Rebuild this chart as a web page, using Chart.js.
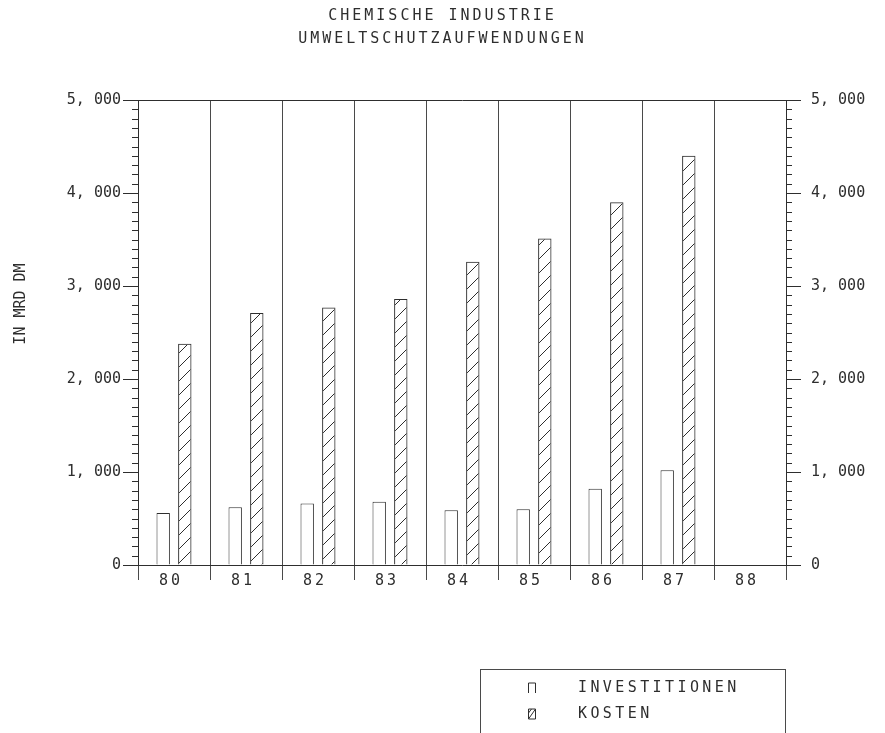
<!DOCTYPE html>
<html>
<head>
<meta charset="utf-8">
<script src="https://cdn.jsdelivr.net/npm/chart.js@4.4.0/dist/chart.umd.min.js"></script>
<style>
    html, body { margin: 0; padding: 0; background: #fff; }
    #wrap { width: 885px; height: 733px; }
</style>
</head>
<body>
<div id="wrap"><canvas id="chart" width="885" height="733"></canvas></div>
<script>
// Chart data (values in MRD DM)
const years = ['80', '81', '82', '83', '84', '85', '86', '87', '88'];
const investitionen = [0.56, 0.62, 0.66, 0.68, 0.59, 0.60, 0.82, 1.02, null];
const kosten = [2.38, 2.71, 2.77, 2.86, 3.26, 3.51, 3.90, 4.40, null];
const yTicks = [0, 1, 2, 3, 4, 5];
const seriesLabels = ['INVESTITIONEN', 'KOSTEN'];
const titleLines = ['CHEMISCHE INDUSTRIE', 'UMWELTSCHUTZAUFWENDUNGEN'];
const yAxisTitle = 'IN MRD DM';

const FONT = '"DejaVu Sans Mono", monospace';
const INK = '#2e2e2e';
const GRID = '#4a4a4a';
const MINOR_STEP = 0.1;

const canvas = document.getElementById('chart');

// diagonal hatch for the KOSTEN bars
function makeHatch() {
    const c = document.createElement('canvas');
    c.width = 14;
    c.height = 14;
    const g = c.getContext('2d');
    g.strokeStyle = INK;
    g.lineWidth = 1;
    g.beginPath();
    g.moveTo(0, 14); g.lineTo(14, 0);
    g.moveTo(-2, 2); g.lineTo(2, -2);
    g.moveTo(12, 16); g.lineTo(16, 12);
    g.stroke();
    return canvas.getContext('2d').createPattern(c, 'repeat');
}

// "5, 000" style labels
function fmtTick(v) {
    return v === 0 ? '0' : v.toFixed(3).replace('.', ', ');
}

// letter spacing per layer + minor ticks, axis title and legend box
const plotterPlugin = {
    id: 'plotter',
    beforeDraw(chart) {
        // title + x labels are drawn before the bars
        chart.ctx.letterSpacing = '3px';
    },
    afterDatasetsDraw(chart) {
        // y tick labels (ticks.z = 1) are drawn after the bars
        chart.ctx.letterSpacing = '0px';
    },
    afterDraw(chart) {
        const ctx = chart.ctx;
        const y = chart.scales.y;
        const area = chart.chartArea;

        ctx.save();
        ctx.strokeStyle = INK;
        ctx.lineWidth = 1;
        ctx.beginPath();
        const n = Math.round(5 / MINOR_STEP);
        for (let i = 1; i < n; i++) {
            if (i % 10 === 0) continue;
            const py = Math.round(y.getPixelForValue(i * MINOR_STEP)) + 0.5;
            ctx.moveTo(area.left - 6, py);
            ctx.lineTo(area.left, py);
            ctx.moveTo(area.right, py);
            ctx.lineTo(area.right + 6, py);
        }
        ctx.stroke();

        // rotated y axis title
        ctx.letterSpacing = '0px';
        ctx.fillStyle = INK;
        ctx.font = '15px ' + FONT;
        ctx.textAlign = 'center';
        ctx.textBaseline = 'middle';
        ctx.translate(21, 304);
        ctx.rotate(-Math.PI / 2);
        ctx.fillText(yAxisTitle, 0, 0);
        ctx.restore();

        // legend box
        ctx.save();
        ctx.strokeStyle = GRID;
        ctx.lineWidth = 1;
        ctx.strokeRect(480.5, 669.5, 305, 80);
        ctx.letterSpacing = '3.4px';
        ctx.fillStyle = INK;
        ctx.strokeStyle = INK;
        ctx.font = '15px ' + FONT;
        ctx.textAlign = 'left';
        ctx.textBaseline = 'middle';
        chart.data.datasets.forEach((ds, i) => {
            const cy = 688 + i * 26;
            ctx.beginPath();
            if (i === 0) {
                ctx.moveTo(528.5, cy + 5);
                ctx.lineTo(528.5, cy - 5);
                ctx.lineTo(535.5, cy - 5);
                ctx.lineTo(535.5, cy + 5);
            } else {
                ctx.rect(528.5, cy - 5, 7, 10);
                ctx.moveTo(528.5, cy + 5);
                ctx.lineTo(535.5, cy - 5);
                ctx.moveTo(528.5, cy - 1);
                ctx.lineTo(531.5, cy - 5);
            }
            ctx.stroke();
            ctx.fillText(ds.label, 578, cy);
        });
        ctx.restore();
    }
};

const tickFont = { family: FONT, size: 15 };

new Chart(canvas, {
    type: 'bar',
    data: {
        labels: years,
        datasets: [
            {
                label: seriesLabels[0],
                data: investitionen,
                backgroundColor: '#fff',
                borderColor: INK,
                borderWidth: 1,
                borderSkipped: 'bottom'
            },
            {
                label: seriesLabels[1],
                data: kosten,
                backgroundColor: makeHatch(),
                borderColor: INK,
                borderWidth: 1,
                borderSkipped: 'bottom'
            }
        ]
    },
    options: {
        responsive: false,
        animation: false,
        datasets: {
            bar: { categoryPercentage: 0.6, barPercentage: 0.62 }
        },
        layout: { padding: { top: 0, left: 0, right: 0, bottom: 138 } },
        plugins: {
            legend: { display: false },
            tooltip: { enabled: false },
            title: {
                display: true,
                text: titleLines,
                color: INK,
                font: { family: FONT, size: 15, weight: 'normal', lineHeight: 1.55 },
                padding: { top: 4, bottom: 49.5 }
            }
        },
        scales: {
            x: {
                grid: { offset: true, color: GRID, lineWidth: 1, tickLength: 15, tickColor: GRID },
                border: { color: INK },
                ticks: { color: INK, font: tickFont, padding: -8, labelOffset: -3 },
                afterFit: s => { s.height = 30; }
            },
            y: {
                position: 'left',
                min: 0,
                max: 5,
                afterBuildTicks: s => { s.ticks = yTicks.map(v => ({ value: v })); },
                afterFit: s => { s.width = 138; },
                grid: {
                    color: c => (c.tick && c.tick.value === 5 ? INK : 'rgba(0,0,0,0)'),
                    tickColor: INK,
                    tickLength: 15
                },
                border: { color: INK },
                ticks: { z: 1, color: INK, font: tickFont, padding: 2, callback: fmtTick }
            },
            y2: {
                position: 'right',
                min: 0,
                max: 5,
                afterBuildTicks: s => { s.ticks = yTicks.map(v => ({ value: v })); },
                afterFit: s => { s.width = 99; },
                grid: { drawOnChartArea: false, tickColor: INK, tickLength: 15 },
                border: { color: INK },
                ticks: { z: 1, color: INK, font: tickFont, padding: 10, callback: fmtTick }
            }
        }
    },
    plugins: [plotterPlugin]
});
</script>
</body>
</html>
